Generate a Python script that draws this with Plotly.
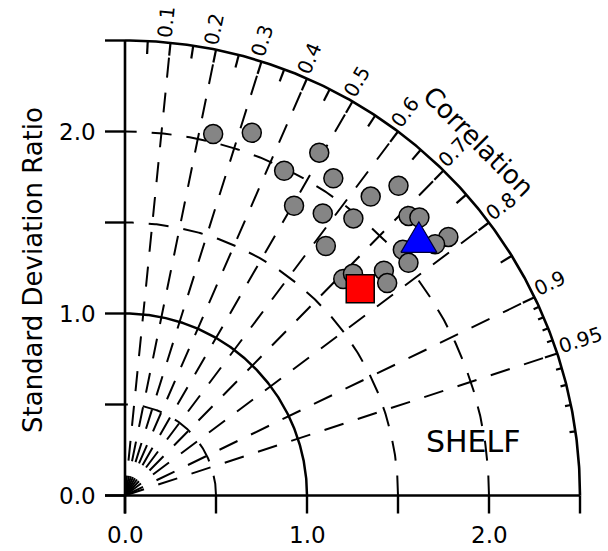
import numpy as np
import plotly.graph_objects as go

# ---- data: normalised standard deviation and correlation of each run ----
member_std = [2.044, 2.111, 1.987, 2.165, 2.085, 2.270, 2.126, 1.843, 1.893, 1.973,
              2.188, 2.225, 2.275, 2.193, 2.038, 2.015, 1.760, 1.689, 1.747, 1.884, 1.854]
member_corr = [0.237, 0.330, 0.440, 0.493, 0.549, 0.662, 0.635, 0.504, 0.574, 0.636,
               0.712, 0.727, 0.781, 0.777, 0.749, 0.773, 0.627, 0.710, 0.717, 0.755, 0.777]

triangle_std = [2.150]
triangle_corr = [0.751]
square_std = [1.721]
square_corr = [0.751]

# ---- axis / grid definitions ----
corr_labels = [0.1, 0.2, 0.3, 0.4, 0.5, 0.6, 0.7, 0.8, 0.9, 0.95]
corr_ticks_long = [0.05, 0.1, 0.15, 0.2, 0.25, 0.3, 0.35, 0.4, 0.45, 0.5, 0.55,
                   0.6, 0.65, 0.7, 0.75, 0.8, 0.85, 0.9, 0.95]
corr_ticks_short = [0.91, 0.92, 0.93, 0.94, 0.96, 0.97, 0.98, 0.99]
std_ticks = [0.0, 0.5, 1.0, 1.5, 2.0, 2.5]
std_tick_labels = ["0.0", "1.0", "2.0"]
std_dashed_arcs = [0.5, 1.5, 2.0]
std_ref_arc = 1.0
std_max = 2.5
region_name = "SHELF"
x_title = "Standard Deviation Ratio"
corr_title = "Correlation"

# ---- canvas geometry ----
W, H = 608, 551
PX = 182.0                # pixels per unit of standard deviation ratio
X0_PX, Y0_PX = 125.0, 495.5   # origin position on the canvas
x_range = [-X0_PX / PX, (W - X0_PX) / PX]
y_range = [(Y0_PX - H) / PX, Y0_PX / PX]
FONT = "DejaVu Sans"


def px(v):
    return v / PX


def polar_xy(s, c):
    s = np.asarray(s, float)
    c = np.asarray(c, float)
    return s * c, s * np.sqrt(1 - c ** 2)


fig = go.Figure()


def add_line(xs, ys, width=1.8, dash=None, color="black"):
    fig.add_trace(go.Scatter(x=xs, y=ys, mode="lines", hoverinfo="skip",
                             line=dict(color=color, width=width, dash=dash),
                             showlegend=False))


DASH = "20px,15px"

# radial correlation lines, each starting at the origin
for c in corr_labels:
    th = np.arccos(c)
    add_line([0, std_max * np.cos(th)], [0, std_max * np.sin(th)], width=2.0, dash=DASH)

# dashed standard deviation arcs
ang = np.linspace(0, np.pi / 2, 300)
for r in std_dashed_arcs:
    add_line(r * np.cos(ang), r * np.sin(ang), width=2.0, dash=DASH)

# reference arc and outer boundary
add_line(std_ref_arc * np.cos(ang), std_ref_arc * np.sin(ang), width=2.5)
add_line(std_max * np.cos(ang), std_max * np.sin(ang), width=2.6)

# straight axes
add_line([0, 0], [-px(18), std_max], width=2.6)
add_line([-px(20), std_max], [0, 0], width=2.6)

# axis ticks
tx, ty = [], []
for t in std_ticks:
    tx += [-px(20), 0, None]
    ty += [t, t, None]
    tx += [t, t, None]
    ty += [0, -px(18), None]
add_line(tx, ty, width=2.4)

# correlation ticks on the outer arc, pointing inward
cx, cy = [], []
for c, L in [(c, 13) for c in corr_ticks_long] + [(c, 6) for c in corr_ticks_short]:
    th = np.arccos(c)
    cx += [std_max * np.cos(th), (std_max - px(L)) * np.cos(th), None]
    cy += [std_max * np.sin(th), (std_max - px(L)) * np.sin(th), None]
add_line(cx, cy, width=2.2)

# ---- markers ----
mx, my = polar_xy(member_std, member_corr)
fig.add_trace(go.Scatter(x=mx, y=my, mode="markers", hoverinfo="skip", showlegend=False,
                         marker=dict(symbol="circle", size=19, color="#858585",
                                     line=dict(color="black", width=1.5))))

sx, sy = polar_xy(square_std, square_corr)
fig.add_trace(go.Scatter(x=sx, y=sy, mode="markers", hoverinfo="skip", showlegend=False,
                         marker=dict(symbol="square", size=28, color="#ff0000",
                                     line=dict(color="black", width=1.5))))

# equilateral triangle built around its data point
bx, by = polar_xy(triangle_std, triangle_corr)
half_w, half_h = px(18), px(15.3)
tri_x = [bx[0] - half_w, bx[0] + half_w, bx[0], bx[0] - half_w]
tri_y = [by[0] - half_h, by[0] - half_h, by[0] + half_h, by[0] - half_h]
fig.add_trace(go.Scatter(x=tri_x, y=tri_y, mode="lines", fill="toself",
                         fillcolor="#0000ff", hoverinfo="skip", showlegend=False,
                         line=dict(color="#000033", width=1.2)))

# ---- text ----
ann = []
DIG, DOT = 0.636, 0.318
fs_corr = 20
for c in corr_labels:
    txt = f"{c:g}"
    w = sum(DOT if ch == "." else DIG for ch in txt) * fs_corr
    th = np.arccos(c)
    rc = std_max + px(4 + w / 2)
    off = px(6)
    ann.append(dict(x=rc * np.cos(th) - off * np.sin(th),
                    y=rc * np.sin(th) + off * np.cos(th),
                    text=txt, textangle=-np.degrees(th),
                    font=dict(size=fs_corr)))

for lab in std_tick_labels:
    v = float(lab)
    ann.append(dict(x=v, y=px(-39.5), text=lab, font=dict(size=23)))
    ann.append(dict(x=px(-48), y=v, text=lab, font=dict(size=23)))

ann.append(dict(x=px(-92), y=px(225.5), text=x_title, textangle=-90, font=dict(size=26)))
r_title = 2.75
ann.append(dict(x=r_title * np.cos(np.pi / 4), y=r_title * np.sin(np.pi / 4),
                text=corr_title, textangle=45, font=dict(size=26)))
ann.append(dict(x=px(348.3), y=px(53.8), text=region_name, font=dict(size=30)))

for a in ann:
    a.update(xref="x", yref="y", showarrow=False, xanchor="center", yanchor="middle")
    a["font"].update(family=FONT, color="black")

fig.update_layout(
    width=W, height=H, margin=dict(l=0, r=0, t=0, b=0),
    paper_bgcolor="white", plot_bgcolor="white",
    xaxis=dict(range=x_range, visible=False, fixedrange=True),
    yaxis=dict(range=y_range, visible=False, fixedrange=True),
    annotations=ann,
)

fig.write_html("out.html")
